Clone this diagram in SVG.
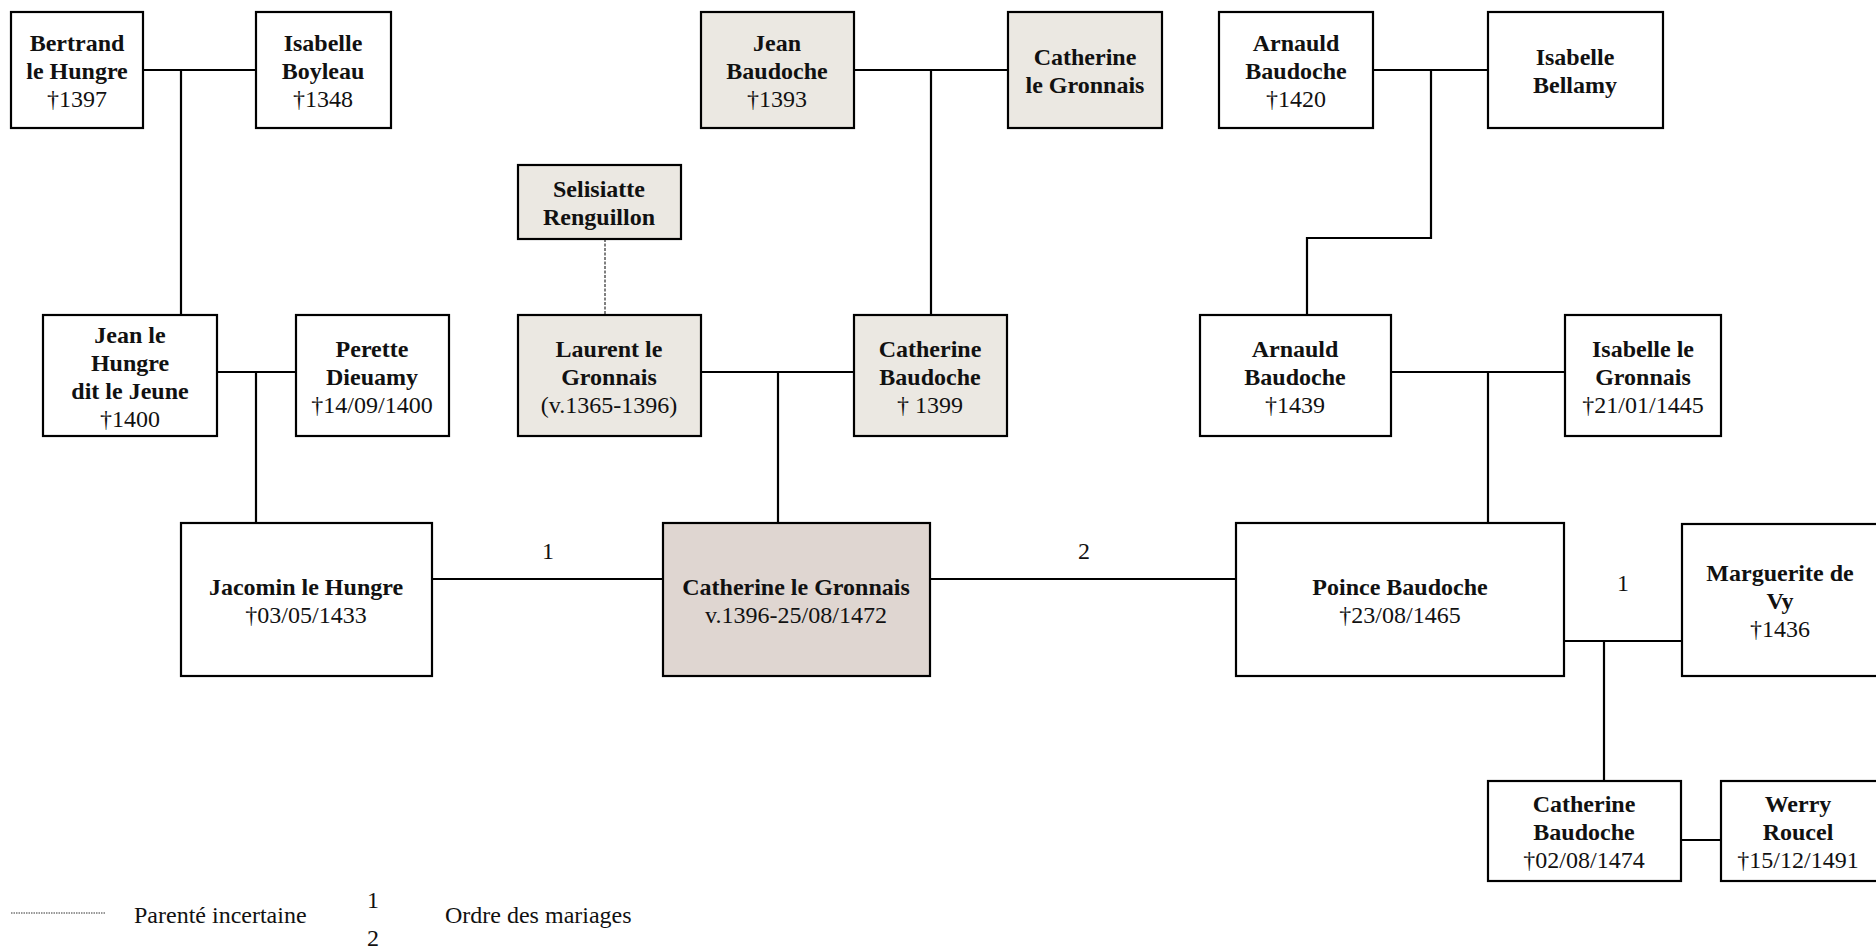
<svg xmlns="http://www.w3.org/2000/svg" width="1876" height="952" viewBox="0 0 1876 952">
<style>
.box{fill:#ffffff;stroke:#000;stroke-width:2.2}
.anc{fill:#ebe8e2;stroke:#000;stroke-width:2.2}
.main{fill:#dfd6d1;stroke:#000;stroke-width:2.2}
.ln{fill:none;stroke:#000;stroke-width:2.2}
.dash{fill:none;stroke:#555;stroke-width:1.5;stroke-dasharray:3 1.5}
.dot{fill:none;stroke:#333;stroke-width:1;stroke-dasharray:1.5 1}
text{font-family:"Liberation Serif","Times New Roman",serif;font-size:24px;fill:#111;text-anchor:middle}
.b{font-weight:bold}
.l{text-anchor:start}
</style>
<g id="connectors">
<path class="ln" d="M143 70H256M181 70V315"/>
<path class="ln" d="M854 70H1008M931 70V315"/>
<path class="ln" d="M1373 70H1488M1431 70V238H1307V315"/>
<path class="ln" d="M217 372H296M256 372V523"/>
<path class="ln" d="M701 372H854M778 372V523"/>
<path class="ln" d="M1391 372H1565M1488 372V523"/>
<path class="ln" d="M432 579H663M930 579H1236"/>
<path class="ln" d="M1564 641H1682M1604 641V781"/>
<path class="ln" d="M1681 840H1721"/>
<path class="dash" d="M605 239V315"/>
<text x="548" y="559">1</text>
<text x="1084" y="559">2</text>
<text x="1623" y="591">1</text>
</g>
<g id="n-bertrand"><rect class="box" x="11" y="12" width="132" height="116"/><text x="77" y="51" class="b">Bertrand</text><text x="77" y="79" class="b">le Hungre</text><text x="77" y="107">†1397</text></g>
<g id="n-isabelle-boyleau"><rect class="box" x="256" y="12" width="135" height="116"/><text x="323" y="51" class="b">Isabelle</text><text x="323" y="79" class="b">Boyleau</text><text x="323" y="107">†1348</text></g>
<g id="n-jean-baudoche"><rect class="anc" x="701" y="12" width="153" height="116"/><text x="777" y="51" class="b">Jean</text><text x="777" y="79" class="b">Baudoche</text><text x="777" y="107">†1393</text></g>
<g id="n-catherine-le-gronnais-1"><rect class="anc" x="1008" y="12" width="154" height="116"/><text x="1085" y="65" class="b">Catherine</text><text x="1085" y="93" class="b">le Gronnais</text></g>
<g id="n-arnauld-1"><rect class="box" x="1219" y="12" width="154" height="116"/><text x="1296" y="51" class="b">Arnauld</text><text x="1296" y="79" class="b">Baudoche</text><text x="1296" y="107">†1420</text></g>
<g id="n-isabelle-bellamy"><rect class="box" x="1488" y="12" width="175" height="116"/><text x="1575" y="65" class="b">Isabelle</text><text x="1575" y="93" class="b">Bellamy</text></g>
<g id="n-selisiatte"><rect class="anc" x="518" y="165" width="163" height="74"/><text x="599" y="197" class="b">Selisiatte</text><text x="599" y="225" class="b">Renguillon</text></g>
<g id="n-jean-le-hungre"><rect class="box" x="43" y="315" width="174" height="121"/><text x="130" y="343" class="b">Jean le</text><text x="130" y="371" class="b">Hungre</text><text x="130" y="399" class="b">dit le Jeune</text><text x="130" y="427">†1400</text></g>
<g id="n-perette"><rect class="box" x="296" y="315" width="153" height="121"/><text x="372" y="357" class="b">Perette</text><text x="372" y="385" class="b">Dieuamy</text><text x="372" y="413">†14/09/1400</text></g>
<g id="n-laurent"><rect class="anc" x="518" y="315" width="183" height="121"/><text x="609" y="357" class="b">Laurent le</text><text x="609" y="385" class="b">Gronnais</text><text x="609" y="413">(v.1365-1396)</text></g>
<g id="n-catherine-baudoche-1"><rect class="anc" x="854" y="315" width="153" height="121"/><text x="930" y="357" class="b">Catherine</text><text x="930" y="385" class="b">Baudoche</text><text x="930" y="413">† 1399</text></g>
<g id="n-arnauld-2"><rect class="box" x="1200" y="315" width="191" height="121"/><text x="1295" y="357" class="b">Arnauld</text><text x="1295" y="385" class="b">Baudoche</text><text x="1295" y="413">†1439</text></g>
<g id="n-isabelle-le-gronnais"><rect class="box" x="1565" y="315" width="156" height="121"/><text x="1643" y="357" class="b">Isabelle le</text><text x="1643" y="385" class="b">Gronnais</text><text x="1643" y="413">†21/01/1445</text></g>
<g id="n-jacomin"><rect class="box" x="181" y="523" width="251" height="153"/><text x="306" y="595" class="b">Jacomin le Hungre</text><text x="306" y="623">†03/05/1433</text></g>
<g id="n-catherine-main"><rect class="main" x="663" y="523" width="267" height="153"/><text x="796" y="595" class="b">Catherine le Gronnais</text><text x="796" y="623">v.1396-25/08/1472</text></g>
<g id="n-poince"><rect class="box" x="1236" y="523" width="328" height="153"/><text x="1400" y="595" class="b">Poince Baudoche</text><text x="1400" y="623">†23/08/1465</text></g>
<g id="n-marguerite"><rect class="box" x="1682" y="524" width="200" height="152"/><text x="1780" y="581" class="b">Marguerite de</text><text x="1780" y="609" class="b">Vy</text><text x="1780" y="637">†1436</text></g>
<g id="n-catherine-baudoche-2"><rect class="box" x="1488" y="781" width="193" height="100"/><text x="1584" y="812" class="b">Catherine</text><text x="1584" y="840" class="b">Baudoche</text><text x="1584" y="868">†02/08/1474</text></g>
<g id="n-werry"><rect class="box" x="1721" y="781" width="160" height="100"/><text x="1798" y="812" class="b">Werry</text><text x="1798" y="840" class="b">Roucel</text><text x="1798" y="868">†15/12/1491</text></g>
<g id="legend">
<path class="dot" d="M11 913H105"/>
<text x="134" y="923" class="l">Parenté incertaine</text>
<text x="373" y="908">1</text>
<text x="373" y="946">2</text>
<text x="445" y="923" class="l">Ordre des mariages</text>
</g>
</svg>
